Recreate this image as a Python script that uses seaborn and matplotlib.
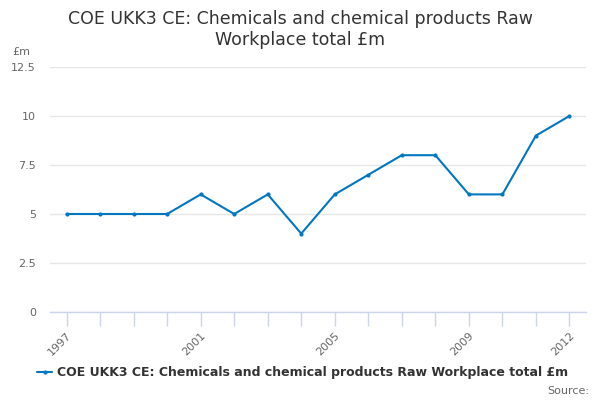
import matplotlib
matplotlib.use("Agg")
import matplotlib.pyplot as plt
import pandas as pd
import seaborn as sns

# data
years = [1997, 1998, 1999, 2000, 2001, 2002, 2003, 2004,
         2005, 2006, 2007, 2008, 2009, 2010, 2011, 2012]
values = [5, 5, 5, 5, 6, 5, 6, 4, 6, 7, 8, 8, 6, 6, 9, 10]
tick_years = [1997, 2001, 2005, 2009, 2012]
y_ticks = [0, 2.5, 5, 7.5, 10, 12.5]
y_labels = ["0", "2.5", "5", "7.5", "10", "12.5"]
series_name = "COE UKK3 CE: Chemicals and chemical products Raw Workplace total £m"

df = pd.DataFrame({"year": years, "value": values})

sns.set_theme(style="white")
plt.rcParams["font.family"] = ["DejaVu Sans"]

line_col = "#0077c0"
grid_col = "#e6e6e6"
axis_col = "#ccd6eb"
text_col = "#666666"

fig = plt.figure(figsize=(6, 4), dpi=100)
ax = fig.add_axes([0.083, 0.22, 0.894, 0.6125])

sns.lineplot(data=df, x="year", y="value", ax=ax, color=line_col, linewidth=1.5,
             marker="o", markersize=3, markeredgewidth=0, label=series_name, legend=False)

ax.set_xlim(1996.5, 2012.5)
ax.set_ylim(0, 12.5)
ax.set_yticks(y_ticks)
ax.set_yticklabels(y_labels)
ax.set_xticks(years, minor=True)
ax.set_xticks(tick_years)
ax.set_xticklabels([str(y) for y in tick_years], rotation=45, ha="right",
                   rotation_mode="anchor")
ax.tick_params(axis="x", which="both", bottom=True, direction="out", length=10,
               color=axis_col, width=1, labelsize=8, labelcolor=text_col, pad=3)
ax.tick_params(axis="y", length=0, labelsize=8, labelcolor=text_col, pad=10)
ax.yaxis.grid(True, color=grid_col, linewidth=1)
ax.xaxis.grid(False)
for s in ["top", "right", "left"]:
    ax.spines[s].set_visible(False)
ax.spines["bottom"].set_color(axis_col)
ax.spines["bottom"].set_linewidth(1)
ax.set_xlabel("")
ax.set_ylabel("")

fig.text(0.5, 0.975, "COE UKK3 CE: Chemicals and chemical products Raw\nWorkplace total £m",
         ha="center", va="top", fontsize=12.5, color="#333333", linespacing=1.2)
fig.text(0.02, 0.87, "£m", ha="left", va="center", fontsize=8, color=text_col)

handles, labels = ax.get_legend_handles_labels()
fig.legend(handles, labels, loc="center", bbox_to_anchor=(0.505, 0.068), frameon=False,
           prop={"size": 9, "weight": "bold"}, labelcolor="#333333",
           handlelength=1.2, handletextpad=0.4)
fig.text(0.982, 0.022, "Source:", ha="right", va="center", fontsize=8, color=text_col)

fig.savefig("out.png", dpi=100)
